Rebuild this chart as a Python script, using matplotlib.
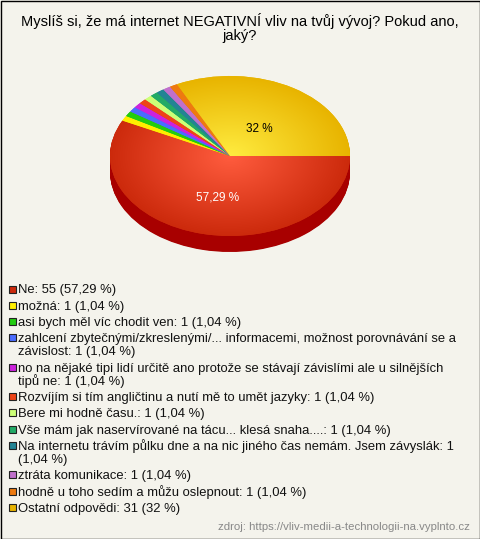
import numpy as np
import matplotlib
matplotlib.use('Agg')
from matplotlib import pyplot as plt
from matplotlib.colors import LinearSegmentedColormap, to_rgb
from matplotlib.patches import Rectangle

plt.rcParams['font.family'] = ['Liberation Sans', 'DejaVu Sans']

title = 'Myslíš si, že má internet NEGATIVNÍ vliv na tvůj vývoj? Pokud ano,\njaký?'

counts = [55, 1, 1, 1, 1, 1, 1, 1, 1, 1, 1, 31]
slice_labels = ['57,29 %', '', '', '', '', '', '', '', '', '', '', '32 %']
legend_texts = [
    'Ne: 55 (57,29 %)',
    'možná: 1 (1,04 %)',
    'asi bych měl víc chodit ven: 1 (1,04 %)',
    'zahlcení zbytečnými/zkreslenými/... informacemi, možnost porovnávání se a\nzávislost: 1 (1,04 %)',
    'no na nějaké tipi lidí určitě ano protože se stávají závislími ale u silnějších\ntipů ne: 1 (1,04 %)',
    'Rozvíjím si tím angličtinu a nutí mě to umět jazyky: 1 (1,04 %)',
    'Bere mi hodně času.: 1 (1,04 %)',
    'Vše mám jak naservírované na tácu... klesá snaha....: 1 (1,04 %)',
    'Na internetu trávím půlku dne a na nic jiného čas nemám. Jsem závyslák: 1\n(1,04 %)',
    'ztráta komunikace: 1 (1,04 %)',
    'hodně u toho sedím a můžu oslepnout: 1 (1,04 %)',
    'Ostatní odpovědi: 31 (32 %)',
]
colors = ['#cc2a0c', '#ffee00', '#22cc11', '#4a6cff', '#cc22dd', '#ee4418',
          '#ccff77', '#22aa66', '#238494', '#c070cc', '#ee7a10', '#e8b400']
centre_colors = ['#ff5c3e', '#ffee00', '#22cc11', '#4a6cff', '#cc22dd', '#ee4418',
                 '#ccff77', '#22aa66', '#238494', '#c070cc', '#ee7a10', '#ffec40']
source = 'zdroj: https://vliv-medii-a-technologii-na.vyplnto.cz'

W, H = 480, 539
bg = '#f4f3ec'
fig = plt.figure(figsize=(W / 100, H / 100), dpi=100, facecolor=bg)

# background axes in pixel coordinates
base = fig.add_axes([0, 0, 1, 1])
base.set_xlim(0, W)
base.set_ylim(H, 0)
base.axis('off')
base.add_patch(Rectangle((0.5, 0.5), W - 1, H - 1, fill=False, edgecolor='black', lw=1))

base.text(240, 28, title, ha='center', va='center', fontsize=10.5, linespacing=1.05)

# pie: top face 240x160 px, 16 px deep side
ax = fig.add_axes([110 / W, (H - 252) / H, 240 / W, 176 / H])
depth = 0.2
side_colors = [tuple(c * 0.8 for c in to_rgb(col)) for col in colors]
side_colors[0] = '#a80000'
for d in np.linspace(depth, 0.01, 25):
    ax.pie(counts, colors=side_colors, startangle=0, counterclock=False,
           center=(0, -d), radius=1, wedgeprops=dict(linewidth=0))

wedges, texts = ax.pie(counts, colors=colors, startangle=0, counterclock=False,
                       labels=slice_labels, labeldistance=0.47,
                       wedgeprops=dict(linewidth=0), textprops=dict(fontsize=8.5))
texts[0].set_color('white')
texts[-1].set_color('black')
for t in texts:
    t.set_zorder(10)
    t.set_ha('center')
    t.set_va('center')
    tx, ty = t.get_position()
    t.set_position((tx, ty - 0.06))

gx, gy = np.meshgrid(np.linspace(-1, 1, 300), np.linspace(-1, 1, 300))
rr = np.sqrt(gx ** 2 + gy ** 2)
for w, c0, c1 in zip(wedges, centre_colors, colors):
    cmap = LinearSegmentedColormap.from_list('g', [c0, c1])
    im = ax.imshow(rr, cmap=cmap, vmin=0, vmax=1, extent=(-1, 1, -1, 1),
                   origin='lower', aspect='auto', zorder=3, interpolation='bilinear')
    im.set_clip_path(w)

ax.set_aspect('auto')
ax.set_xlim(-1, 1)
ax.set_ylim(-1 - depth, 1)
ax.axis('off')

# legend
y = 289
for txt, col in zip(legend_texts, colors):
    base.add_patch(Rectangle((8.5, y - 3.5), 7, 7, facecolor=col, edgecolor='#222222', lw=0.8))
    for k, line in enumerate(txt.split('\n')):
        base.text(18.5, y + 4.5 + 13 * k, line, ha='left', va='baseline', fontsize=9.4,
                  color='#111111')
    y += 13 * (txt.count('\n') + 1) + 3.3

base.text(470, 527, source, ha='right', va='center', fontsize=8.2, color='#888888')

fig.savefig('out.png', dpi=100, facecolor=bg)
